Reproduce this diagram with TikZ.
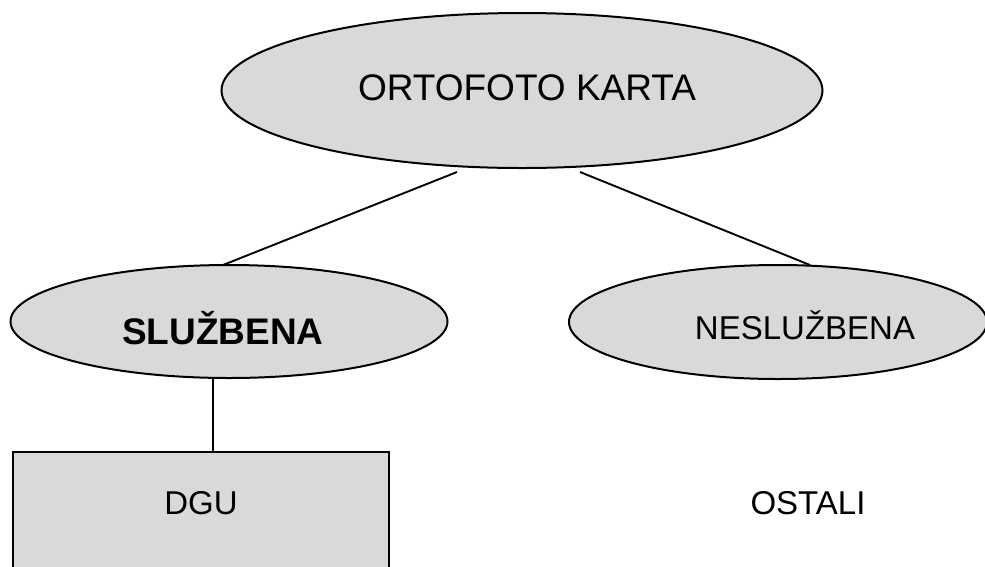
\documentclass[tikz,border=0pt]{standalone}
\usepackage{fontspec}
\setmainfont{Liberation Sans}
\usetikzlibrary{shapes.geometric}
\definecolor{boxgray}{RGB}{217,217,217}
\tikzset{
  oval/.style={ellipse, draw=black, line width=2pt, fill=boxgray, inner sep=0pt},
  conn/.style={draw=black, line width=1.9pt},
  lbl/.style={font=\fontsize{33}{36}\selectfont}
}
\begin{document}
\begin{tikzpicture}[x=1pt,y=-1pt]
\useasboundingbox (0,0) rectangle (985,566);
\clip (0,0) rectangle (985,566);
\node[oval, minimum width=601, minimum height=155] (top) at (522,90.5) {};
\node[font=\fontsize{37}{40}\selectfont] (toptext) at (527,88) {ORTOFOTO KARTA};
\node[oval, minimum width=437, minimum height=113] (sl) at (229,321.5) {};
\node[font=\bfseries\fontsize{37}{40}\selectfont] (sltext) at (223,328) {SLUŽBENA};
\node[oval, minimum width=418, minimum height=114] (ne) at (778,322) {};
\node[lbl] (netext) at (805,325) {NESLUŽBENA};
\node[draw=black, line width=2pt, fill=boxgray, rectangle, minimum width=376, inner xsep=0pt, inner ysep=0pt, text height=62pt, text depth=100pt, anchor=base, lbl] (dgu) at (201,514) {DGU};
\node[lbl] (ost) at (808,503) {OSTALI};
\coordinate (t1) at (457,172);
\coordinate (s1) at (223,265);
\coordinate (t2) at (580,172);
\coordinate (n1) at (810,265);
\coordinate (s2) at (213,378);
\draw[conn] (t1) -- (s1);
\draw[conn] (t2) -- (n1);
\draw[conn] (s2) -- (s2 |- dgu.north);
\end{tikzpicture}
\end{document}
